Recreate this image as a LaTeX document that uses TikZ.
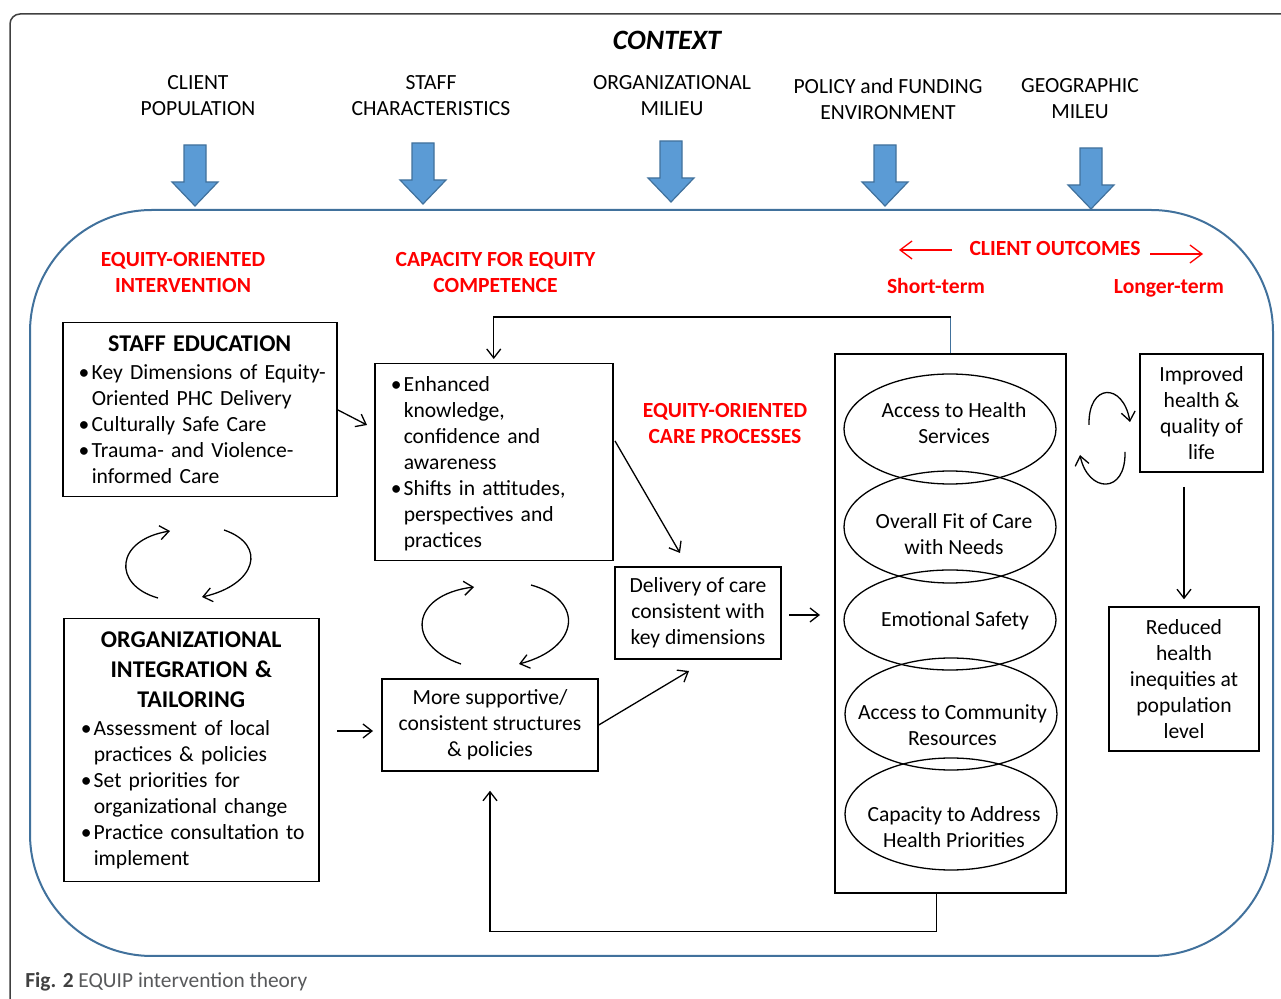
\documentclass[tikz,border=0pt]{standalone}
\usepackage{fontspec}
\setmainfont{Carlito}
\usetikzlibrary{shapes.geometric,arrows.meta}

\definecolor{equipred}{RGB}{255,0,0}
\definecolor{arrowblue}{RGB}{91,155,213}
\definecolor{edgeblue}{RGB}{65,113,156}
\definecolor{framegray}{RGB}{64,64,64}
\definecolor{capgray}{RGB}{88,89,91}

\newcommand{\boxfont}{\fontsize{10.8}{13}\selectfont}
\newcommand{\titlefont}{\fontsize{12}{15}\selectfont\bfseries}
% one bullet line, and one continuation line
\newcommand{\bul}[1]{\par\noindent\makebox[6.5pt][l]{\textbullet}\mbox{#1}}
\newcommand{\cont}[1]{\par\noindent\hspace*{6.5pt}\mbox{#1}}

\tikzset{
  >={Straight Barb[length=4.5pt,width=7pt]},
  box/.style={draw, line width=0.75pt, inner sep=2pt, font=\boxfont},
  listbox/.style={box, anchor=north west, inner xsep=8pt},
  oval/.style={draw, ellipse, line width=0.65pt, minimum width=106pt, inner sep=0pt},
  ovaltext/.style={font=\boxfont, align=center},
  toplabel/.style={font=\boxfont, align=center},
  redhead/.style={text=equipred, font=\boxfont\bfseries, align=center},
  link/.style={->, line width=0.65pt},
  cyclearrow/.style={->, line width=0.65pt},
  redarrow/.style={-{Straight Barb[length=6pt,width=9pt]}, equipred, line width=0.65pt},
  blockarrow/.style={fill=arrowblue, draw=edgeblue, line width=0.6pt},
}

\begin{document}
\begin{tikzpicture}[x=0.5pt, y=-0.5pt]
    \useasboundingbox (0,0) rectangle (1281,999);

    % frames
    \draw[framegray, line width=0.75pt, rounded corners=5pt] (10,999) -- (10,14) -- (1281,14);
    \draw[edgeblue, line width=1pt, rounded corners=61pt] (30,210) rectangle (1273,956);

    % context
    \node[font=\fontsize{14}{17}\selectfont\bfseries\itshape] (context) at (667,40) {CONTEXT};
    \node[toplabel] (client) at (198,96) {CLIENT\\POPULATION};
    \node[toplabel] (staff) at (431,96) {STAFF\\CHARACTERISTICS};
    \node[toplabel] (orgmilieu) at (672,96) {ORGANIZATIONAL\\MILIEU};
    \node[toplabel] (policy) at (888,99) {POLICY and FUNDING\\ENVIRONMENT};
    \node[toplabel] (geo) at (1080,99) {GEOGRAPHIC\\MILEU};

    \foreach \x/\t/\b in {195/145/206, 423/143/204, 671/141/202, 885/145/206, 1091/148/209}
        \filldraw[blockarrow] (\x-11,\t) -- (\x+11,\t) -- (\x+11,\b-24) -- (\x+23,\b-24)
            -- (\x,\b) -- (\x-23,\b-24) -- (\x-11,\b-24) -- cycle;

    % red headings
    \node[redhead] (intervention) at (183,272) {EQUITY-ORIENTED\\INTERVENTION};
    \node[redhead] (capacity) at (495.5,272) {CAPACITY FOR EQUITY\\COMPETENCE};
    \node[redhead] (processes) at (725,423) {EQUITY-ORIENTED\\CARE PROCESSES};
    \node[redhead] (outcomeshead) at (1055,249) {CLIENT OUTCOMES};
    \node[redhead] (short) at (936,286) {Short-term};
    \node[redhead] (longer) at (1169,288) {Longer-term};
    \coordinate (shortA) at (952,250);
    \coordinate (shortB) at (899,250);
    \coordinate (longA) at (1150,254);
    \coordinate (longB) at (1203,254);
    \draw[redarrow] (shortA) -- (shortB);
    \draw[redarrow] (longA) -- (longB);

    % boxes
    \node[listbox, text width=121pt, minimum height=87pt] (staffedu) at (62,322) {
        {\centering\titlefont STAFF EDUCATION\par}\vspace{1pt}
        \bul{Key Dimensions of Equity-}
        \cont{Oriented PHC Delivery}
        \bul{Culturally Safe Care}
        \bul{Trauma- and Violence-}
        \cont{informed Care}};
    \node[listbox, text width=110.5pt, inner xsep=8.5pt, minimum height=131.5pt] (orgint) at (63,618) {
        {\centering\titlefont ORGANIZATIONAL\\INTEGRATION \&\\TAILORING\par}\vspace{1pt}
        \bul{Assessment of local}
        \cont{practices \& policies}
        \bul{Set priorities for}
        \cont{organizational change}
        \bul{Practice consultation to}
        \cont{implement}};
    \node[listbox, text width=103pt, inner ysep=0pt, minimum height=98.5pt] (enhanced) at (374,363) {
        \bul{Enhanced}
        \cont{knowledge,}
        \cont{confidence and}
        \cont{awareness}
        \bul{Shifts in attitudes,}
        \cont{perspectives and}
        \cont{practices}\par\vspace{4pt}\hrule height 0pt};
    \node[box, align=center, minimum width=108pt, minimum height=46pt] (support) at (490,725)
        {More supportive/\\consistent structures\\\& policies};
    \node[box, align=center, minimum width=83pt, minimum height=46pt] (delivery) at (698,613)
        {Delivery of care\\consistent with\\key dimensions};
    \node[box, minimum width=115.5pt, minimum height=269.5pt] (outcomes) at (950.5,623.5) {};
    \node[box, align=center, minimum width=61.5pt, minimum height=59pt] (improved) at (1201.5,413)
        {Improved\\health \&\\quality of\\life};
    \node[box, align=center, minimum width=75pt, minimum height=72pt] (reduced) at (1184,679)
        {Reduced\\health\\inequities at\\population\\level};

    % outcome ovals
    \node[oval, minimum height=55pt] (accessoval) at (950,429) {};
    \node[oval, minimum height=56pt] (fitoval) at (950,527) {};
    \node[oval, minimum height=50pt] (safetyoval) at (950,620) {};
    \node[oval, minimum height=56pt] (communityoval) at (951,714) {};
    \node[oval, minimum height=56pt] (priorityoval) at (951,814) {};
    \node[ovaltext] (access) at (954,423) {Access to Health\\Services};
    \node[ovaltext] (fit) at (954,534) {Overall Fit of Care\\with Needs};
    \node[ovaltext] (safety) at (955,621) {Emotional Safety};
    \node[ovaltext] (community) at (952.5,725) {Access to Community\\Resources};
    \node[ovaltext] (priority) at (954,827) {Capacity to Address\\Health Priorities};

    % connectors
    \coordinate (enhin) at (367,425);
    \coordinate (orgout) at (337,731);
    \coordinate (supin) at (373,731);
    \coordinate (enhout) at (615,441);
    \coordinate (delin) at (680,553);
    \coordinate (delin2) at (689,671);
    \coordinate (delout) at (789,615);
    \coordinate (outin) at (820,615);
    \coordinate (topturn) at (950.5,317);
    \coordinate (impout) at (1184,487);
    \draw[link] (staffedu.east) -- (enhin);
    \draw[link] (orgout) -- (supin);
    \draw[link] (enhout) -- (delin);
    \draw[link] (support.east) -- (delin2);
    \draw[link] (delout) -- (outin);
    \draw[edgeblue, line width=0.4pt] (outcomes.north) -- (topturn);
    \draw[link, shorten >=2pt] (topturn) -| (enhanced.north);
    \draw[link, shorten >=9.5pt] ([xshift=-7pt]outcomes.south) -- ++(0,38) -| (support.south);
    \draw[link, shorten >=3.5pt] (impout) -- (reduced.north);

    % cycles
    \draw[cyclearrow] (158,598) .. controls (112,585) and (115,540) .. (170,531);
    \draw[cyclearrow] (224,530) .. controls (268,545) and (256,585) .. (202,597);
    \draw[cyclearrow] (461,664) .. controls (405,645) and (410,595) .. (474,587);
    \draw[cyclearrow] (531,585) .. controls (585,600) and (580,648) .. (519,664);
    \draw[cyclearrow] (1089,425) .. controls (1088,383) and (1123,382) .. (1130,422);
    \draw[cyclearrow] (1125,452) .. controls (1126,495) and (1088,493) .. (1080,455);

    % caption
    \node[anchor=west, font=\fontsize{10.7}{13}\selectfont, text=framegray, inner sep=0pt] (caption) at (25,982)
        {\textbf{Fig. 2} {\color{capgray}EQUIP intervention theory}};
\end{tikzpicture}
\end{document}
